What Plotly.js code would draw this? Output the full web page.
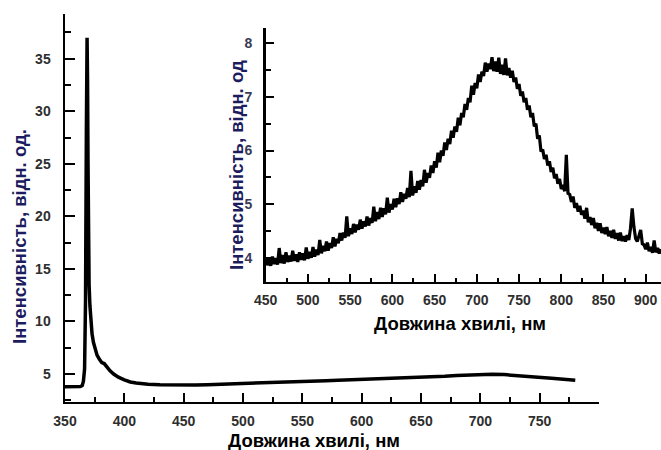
<!DOCTYPE html>
<html>
<head>
<meta charset="utf-8">
<script src="https://cdn.plot.ly/plotly-3.0.1.min.js"></script>
<style>html,body{margin:0;padding:0;background:#fff;}#chart{width:661px;height:450px;}</style>
</head>
<body>
<div id="chart"></div>
<script>
// Main spectrum (wavelength, nm ; intensity, a.u.)
const mainX = [350,355,360,363,364.5,365.5,366.5,367.3,368,368.6,369,369.4,369.8,370.3,371,371.8,372.8,374,375.5,377,379,381,383,385,388,391,395,400,405,410,415,420,430,440,450,460,470,480,490,500,510,520,530,540,550,560,570,580,590,600,610,620,630,640,650,660,670,680,690,700,710,720,730,740,750,760,770,780];
const mainY = [3.8,3.8,3.8,3.82,3.9,4.3,5.5,12,28,37,33,25,17,13.5,11.5,10,8.8,8.0,7.3,6.8,6.4,6.1,6.0,5.7,5.3,5.0,4.7,4.45,4.25,4.15,4.08,4.03,3.98,3.95,3.95,3.97,3.99,4.02,4.05,4.08,4.11,4.15,4.19,4.23,4.28,4.33,4.37,4.41,4.45,4.49,4.52,4.55,4.58,4.62,4.67,4.73,4.8,4.87,4.93,4.97,4.98,4.95,4.88,4.8,4.7,4.6,4.5,4.4];

// Inset spectrum (noisy, read every 2 nm)
const insetX = [450,452,454,456,458,460,462,464,466,468,470,472,474,476,478,480,482,484,486,488,490,492,494,496,498,
500,502,504,506,508,510,512,514,516,518,520,522,524,526,528,530,532,534,536,538,540,542,544,546,548,
550,552,554,556,558,560,562,564,566,568,570,572,574,576,578,580,582,584,586,588,590,592,594,596,598,
600,602,604,606,608,610,612,614,616,618,620,622,624,626,628,630,632,634,636,638,640,642,644,646,648,
650,652,654,656,658,660,662,664,666,668,670,672,674,676,678,680,682,684,686,688,690,692,694,696,698,
700,702,704,706,708,710,712,714,716,718,720,722,724,726,728,730,732,734,736,738,740,742,744,746,748,
750,752,754,756,758,760,762,764,766,768,770,772,774,776,778,780,782,784,786,788,790,792,794,796,798,
800,802,804,806,808,810,812,814,816,818,820,822,824,826,828,830,832,834,836,838,840,842,844,846,848,
850,852,854,856,858,860,862,864,866,868,870,872,874,876,878,880,882,884,886,888,890,892,894,896,898,
900,902,904,906,908,910,912,914,916,918];
const insetY = [4.00,3.86,3.97,3.85,4.02,3.88,3.99,3.87,4.18,3.90,4.05,3.89,4.10,3.92,4.04,3.93,4.13,3.94,4.06,3.92,4.10,3.96,4.08,3.95,4.19,
3.98,4.11,4.00,4.20,4.02,4.15,4.05,4.33,4.08,4.22,4.12,4.30,4.13,4.27,4.18,4.38,4.21,4.35,4.27,4.46,4.32,4.47,4.37,4.77,4.40,
4.55,4.44,4.63,4.47,4.62,4.52,4.71,4.54,4.68,4.58,4.77,4.60,4.74,4.65,4.95,4.68,4.85,4.72,4.93,4.76,4.92,4.81,5.12,4.84,5.00,
4.90,5.10,4.94,5.11,5.00,5.22,5.04,5.19,5.10,5.30,5.13,5.62,5.16,5.33,5.21,5.43,5.27,5.45,5.33,5.64,5.40,5.58,5.49,5.72,5.58,
5.80,5.68,5.96,5.78,6.00,5.90,6.15,6.01,6.22,6.12,6.37,6.24,6.45,6.35,6.61,6.47,6.70,6.62,6.87,6.76,6.98,6.90,7.21,7.04,7.26,
7.16,7.42,7.28,7.47,7.39,7.64,7.47,7.62,7.52,7.74,7.48,7.66,7.47,7.73,7.43,7.60,7.41,7.72,7.40,7.54,7.36,7.49,7.28,7.36,7.15,
7.24,7.02,7.10,6.90,6.98,6.76,6.84,6.62,6.70,6.45,6.50,6.22,6.28,5.98,6.02,5.84,5.92,5.72,5.80,5.60,5.68,5.48,5.56,5.38,5.47,
5.28,5.36,5.24,5.92,5.20,5.18,5.04,5.14,4.93,5.02,4.86,4.97,4.80,4.88,4.73,4.93,4.66,4.76,4.61,4.74,4.55,4.65,4.50,4.64,4.46,
4.56,4.44,4.57,4.40,4.50,4.37,4.52,4.35,4.46,4.32,4.47,4.31,4.40,4.30,4.42,4.33,4.55,4.92,4.58,4.36,4.30,4.40,4.52,4.26,4.24,
4.16,4.28,4.12,4.20,4.09,4.32,4.10,4.18,4.08,4.16];

const mainXTicks = [350,400,450,500,550,600,650,700,750];
const mainYTicks = [5,10,15,20,25,30,35];
const insetXTicks = [450,500,550,600,650,700,750,800,850,900];
const insetYTicks = [4,5,6,7,8];

const xTitle = 'Довжина хвилі, нм';
const yTitleMain = 'Інтенсивність, відн. од.';
const yTitleInset = 'Інтенсивність, відн. од';

const W = 661, H = 450;
const FF = 'Liberation Sans, Arial, sans-serif';
const tickFont = {family: FF, size: 14, color: '#2e2e2e', weight: 700};
const titleFontX = {family: FF, size: 18.5, color: '#000000', weight: 700};
const titleFontY = {family: FF, size: 18.5, color: '#1c1c5e', weight: 700};

function px(x){return x / W;}
function py(y){return 1 - y / H;}

const traces = [
  {x: mainX, y: mainY, type: 'scatter', mode: 'lines', line: {color: '#000', width: 3.5}, xaxis: 'x', yaxis: 'y', hoverinfo: 'skip'},
  {x: insetX, y: insetY, type: 'scatter', mode: 'lines', line: {color: '#000', width: 3.2}, xaxis: 'x2', yaxis: 'y2', hoverinfo: 'skip'}
];

const axCommon = {
  showgrid: false, zeroline: false, showline: true, linecolor: '#000', linewidth: 2.5,
  ticks: 'inside', tickcolor: '#000', tickwidth: 2, tickfont: tickFont, fixedrange: true
};

const layout = {
  width: W, height: H, autosize: false,
  margin: {l: 0, r: 0, t: 0, b: 0, pad: 0},
  paper_bgcolor: '#fff', plot_bgcolor: 'rgba(0,0,0,0)',
  showlegend: false,
  xaxis: Object.assign({}, axCommon, {
    domain: [px(65), px(599)], range: [350, 800], anchor: 'y',
    tickmode: 'array', tickvals: mainXTicks, ticktext: mainXTicks.map(String), ticklen: 9,
    ticklabelstandoff: 5,
    minor: {ticks: 'inside', dtick: 25, tick0: 350, ticklen: 5, tickwidth: 2, tickcolor: '#000'}
  }),
  yaxis: Object.assign({}, axCommon, {
    domain: [py(401.7), py(14)], range: [2.37, 39.25], anchor: 'x',
    tickmode: 'array', tickvals: mainYTicks, ticktext: mainYTicks.map(String), ticklen: 10,
    ticklabelstandoff: 9,
    minor: {ticks: 'inside', dtick: 2.5, tick0: 0, ticklen: 6, tickwidth: 2, tickcolor: '#000'}
  }),
  xaxis2: Object.assign({}, axCommon, {
    domain: [px(265.7), 1], range: [450, 918.1], anchor: 'y2',
    tickmode: 'array', tickvals: insetXTicks, ticktext: insetXTicks.map(String), ticklen: 8,
    ticklabelstandoff: 4,
    minor: {ticks: 'inside', dtick: 25, tick0: 450, ticklen: 4, tickwidth: 2, tickcolor: '#000'}
  }),
  yaxis2: Object.assign({}, axCommon, {
    domain: [py(281.7), py(28.3)], range: [3.552, 8.28], anchor: 'x2',
    tickmode: 'array', tickvals: insetYTicks, ticktext: insetYTicks.map(String), ticklen: 8,
    ticklabelstandoff: 8,
    tickfont: Object.assign({}, tickFont, {color: '#3a3a55'}),
    minor: {ticks: 'inside', dtick: 0.5, tick0: 0, ticklen: 5, tickwidth: 2, tickcolor: '#000'}
  }),
  annotations: [
    {text: xTitle, xref: 'paper', yref: 'paper', x: px(314), y: py(440), xanchor: 'center', yanchor: 'middle', showarrow: false, font: titleFontX},
    {text: yTitleMain, xref: 'paper', yref: 'paper', x: px(20), y: py(237), xanchor: 'center', yanchor: 'middle', showarrow: false, textangle: -90, font: titleFontY},
    {text: xTitle, xref: 'paper', yref: 'paper', x: px(460), y: py(323), xanchor: 'center', yanchor: 'middle', showarrow: false, font: titleFontX},
    {text: yTitleInset, xref: 'paper', yref: 'paper', x: px(236), y: py(165), xanchor: 'center', yanchor: 'middle', showarrow: false, textangle: -90, font: titleFontY}
  ]
};

Plotly.newPlot('chart', traces, layout, {staticPlot: true, displayModeBar: false});
</script>
</body>
</html>
